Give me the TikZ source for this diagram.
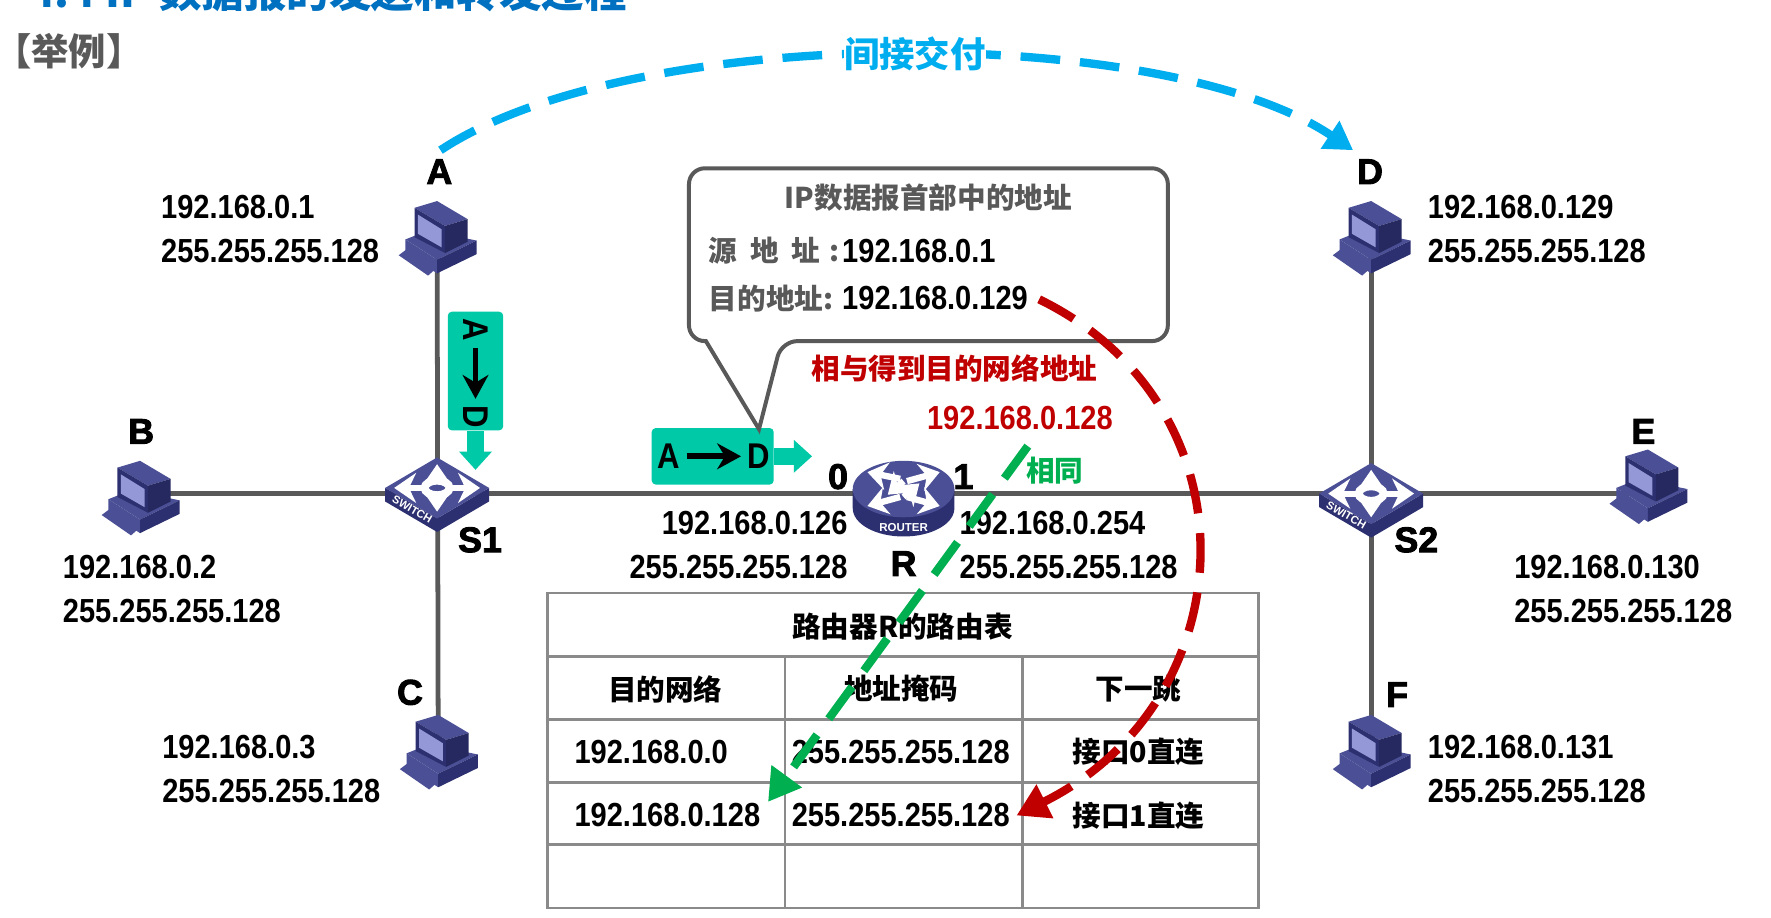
\documentclass[tikz,border=0pt]{standalone}
\usepackage{fontspec}
\usetikzlibrary{calc, positioning, arrows.meta}
\setmainfont{Liberation Sans}
\newfontfamily\cjk{Noto Sans CJK SC}
\newfontfamily\numfont[FakeStretch=0.87,BoldFeatures={FakeStretch=0.87}]{Liberation Sans}
\newfontfamily\lblfont[BoldFeatures={FakeBold=2.5}]{Liberation Sans}

\definecolor{netline}{HTML}{595959}
\definecolor{gridline}{HTML}{8A8A8A}
\definecolor{pktgreen}{HTML}{00C9A7}
\definecolor{skyblue}{HTML}{00AEEF}
\definecolor{titleblue}{HTML}{0070C0}
\definecolor{darkred}{HTML}{C00000}
\definecolor{samegreen}{HTML}{00B050}
\definecolor{icondark}{HTML}{2D3070}
\definecolor{iconmid}{HTML}{4B5096}
\definecolor{iconlight}{HTML}{9498D6}

\tikzset{
  hub/.style={coordinate},
  link/.style={draw=netline, line width=1.2pt},
  addr/.style={font=\numfont\bfseries\fontsize{8.4}{11.1}\selectfont, align=left, anchor=west, inner sep=0pt},
  addrright/.style={addr, align=right, anchor=east},
  cell/.style={font=\numfont\bfseries\fontsize{8.4}{10}\selectfont, inner sep=0pt},
  head/.style={font=\cjk\bfseries\fontsize{7.2}{8}\selectfont, inner sep=0pt},
  devlabel/.style={font=\lblfont\bfseries\fontsize{9}{9}\selectfont, inner sep=0pt},
  greytext/.style={head, text=netline},
  pktbox/.style={fill=pktgreen, rounded corners=1pt, inner sep=0pt},
  pktletter/.style={font=\numfont\bfseries\fontsize{9}{9}\selectfont, inner sep=0pt},
  pktarrow/.style={line width=1.5pt, -{Stealth[length=6pt,width=6.5pt]}, shorten >=1.5pt, shorten <=1.5pt},
  pktout/.style={draw=pktgreen, line width=4.2pt, -{Triangle[length=4.6pt,width=8pt]}},
  sky/.style={draw=skyblue, line width=2.1pt, dash pattern=on 10pt off 5pt, -{Triangle[length=7pt,width=8pt]}},
  reddash/.style={draw=darkred, line width=2.1pt, dash pattern=on 10pt off 5pt, -{Triangle[length=8pt,width=9pt]}},
  greendash/.style={draw=samegreen, line width=2.1pt, dash pattern=on 10pt off 5pt, -{Triangle[length=8pt,width=9pt]}},
  callout/.style={draw=netline, line width=1pt, fill=white},
  pics/pc/.style={code={
    \fill[iconmid] (-28,2) -- (-8,-6) -- (35,3) -- (0,20) -- cycle;
    \fill[iconmid] (-28,2) -- (0,20) -- (0,32) -- (-28,14) -- cycle;
    \fill[icondark] (0,20) -- (35,3) -- (35,15) -- (0,32) -- cycle;
    \fill[iconmid] (-34,16) -- (-8,34) -- (0,27) -- (-26,10) -- cycle;
    \fill[iconmid] (-20,-26) -- (0,-32) -- (27,-16) -- (7,-10) -- cycle;
    \fill[icondark] (-20,-26) -- (7,-10) -- (7,14) -- (-20,0) -- cycle;
    \fill[icondark!85!black] (7,-10) -- (27,-16) -- (27,4) -- (7,14) -- cycle;
    \fill[iconlight] (-17,-20) -- (4,-7) -- (4,9) -- (-17,-3) -- cycle;
  }},
  pics/switch/.style={code={
    \fill[icondark] (-46,-5) -- (0,22) -- (46,-5) -- (46,7) -- (0,34) -- (-46,7) -- cycle;
    \fill[iconmid] (-46,-5) -- (0,-32) -- (46,-5) -- (0,22) -- cycle;
    \foreach \dx/\dy in {0/-26,0/16,-38/-5,38/-5}
      \draw[white, line width=1.5pt, -{Stealth[length=5.5pt,width=7.5pt]}] (0,-5) -- (\dx,\dy);
    \draw[white, line width=2pt, fill=iconmid] (0,-5) ellipse (11 and 6.5);
    \node[rotate=-30, text=white, font=\bfseries\fontsize{2.8}{3}\selectfont, inner sep=0pt] at (-22,14) {SWITCH};
  }},
  pics/router/.style={code={
    \fill[icondark] (-45,-8) -- (-45,9) arc[start angle=180, end angle=0, x radius=45, y radius=25] -- (45,-8) -- cycle;
    \fill[iconmid] (0,-8) ellipse (45 and 25);
    \foreach \xa/\ya/\xb/\yb in {-3/-17/-32/-23, 3/-15/32/-23, -3/-1/-32/7, 3/-1/32/7, 0/-15/-14/-3, 0/-1/14/-13}
      \draw[white, line width=1.6pt, -{Stealth[length=5pt,width=7pt]}] (\xa,\ya) -- (\xb,\yb);
    \node[text=white, font=\bfseries\fontsize{2.9}{3}\selectfont, inner sep=0pt] at (0,26) {ROUTER};
  }},
}

\begin{document}
\begin{tikzpicture}[x=0.01cm, y=-0.01cm]
\useasboundingbox (0,0) rectangle (1568,812);

% Heading
\node[font=\cjk\bfseries\fontsize{10.7}{11}\selectfont, text=titleblue, anchor=west, inner sep=0pt] (title) at (25,-8) {4.4 IP 数据报的发送和转发过程};
\node[font=\cjk\bfseries\fontsize{9.4}{10}\selectfont, text=netline, anchor=west, inner sep=0pt] (example) at (-6,45) {【举例】};

% Device positions
\foreach \nm/\x/\y in {pcA/387/210, pcB/124/440, pcC/388/665, pcD/1214/210, pcE/1459/430, pcF/1214/665, swA/387/437, swB/1214/442, rtr/800/441}
  \node[hub] (\nm) at (\x,\y) {};

% Draw links
\draw[link] (pcA) -- (pcC);
\draw[link] (pcD) -- (pcF);
\draw[link] (pcB |- swA) -- (swA) -- (rtr |- swA) -- (pcE |- swA);

% Draw devices
\foreach \nm in {pcA,pcB,pcC,pcD,pcE,pcF}
  \pic at (\nm) {pc};
\pic at (swA) {switch};
\pic at (swB) {switch};
\pic at (rtr) {router};

% Device labels
\foreach \nm/\x/\y/\txt in {lblA/389/152/A, lblD/1213/152/D, lblB/125/382/B, lblE/1455/382/E, lblC/363/613/C, lblF/1237/615/F, lblSa/425/478/S1, lblSb/1254/478/S2, lblR/800/499/R, lblZero/742/422/0, lblOne/853/422/1}
  \node[devlabel] (\nm) at (\x,\y) {\txt};

% Addresses
\node[addr] (ipA) at (142,202.5) {192.168.0.1\\255.255.255.128};
\node[addr] (ipD) at (1263.5,202.5) {192.168.0.129\\255.255.255.128};
\node[addr] (ipB) at (55,521.5) {192.168.0.2\\255.255.255.128};
\node[addr] (ipE) at (1340,521.5) {192.168.0.130\\255.255.255.128};
\node[addr] (ipC) at (143,680.5) {192.168.0.3\\255.255.255.128};
\node[addr] (ipF) at (1263.5,680.5) {192.168.0.131\\255.255.255.128};
\node[addrright] (ipZero) at (751,482.5) {192.168.0.126\\255.255.255.128};
\node[addr] (ipOne) at (849,482.5) {192.168.0.254\\255.255.255.128};

% Packet on the way down
\node[pktbox, minimum width=49*0.01cm, minimum height=105*0.01cm] (pktV) at (421,328.5) {};
\node[pktletter, rotate=-90] (pktVa) at (421,292) {A};
\node[pktletter, rotate=-90] (pktVd) at (421,369) {D};
\draw[pktarrow] (pktVa) -- (pktVd);
\coordinate (pktVend) at (421,416);
\draw[pktout] (pktV.south) -- (pktVend);

% Packet on the way to the router
\node[pktbox, minimum width=108*0.01cm, minimum height=50*0.01cm] (pktH) at (631,404) {};
\node[pktletter] (pktHa) at (592,404) {A};
\node[pktletter] (pktHd) at (672,404) {D};
\draw[pktarrow] (pktHa) -- (pktHd);
\coordinate (pktHend) at (719,404);
\draw[pktout] (pktH.east) -- (pktHend);

% Header callout
\coordinate (calloutTip) at (672,380);
\draw[callout, rounded corners=14*0.01cm] (610,225) -- (610,149) -- (1034,149) -- (1034,302) -- (692,302) [sharp corners] -- (calloutTip) -- (625,302) [rounded corners=14*0.01cm] -- (610,302) -- (610,225);
\node[greytext] (calloutTitle) at (822,175) {IP数据报首部中的地址};
\node[greytext, anchor=west] (srcKey) at (627,222) {源\hspace{0.45em}地\hspace{0.45em}址\hspace{0.3em}:};
\node[greytext, anchor=west] (dstKey) at (627,264) {目的地址:};
\node[cell, anchor=west] (srcVal) at (745,222) {192.168.0.1};
\node[cell, anchor=west] (dstVal) at (745,264) {192.168.0.129};

% Red notes
\node[head, text=darkred] (andNote) at (845,326) {相与得到目的网络地址};
\node[cell, text=darkred] (netVal) at (903,370) {192.168.0.128};
\node[head, text=samegreen] (sameNote) at (934,417) {相同};

% Routing table
\draw[gridline, line width=0.7pt, fill=white] (485,525) rectangle (1114,804);
\foreach \y in {581,637,693,748}
  \draw[gridline, line width=0.7pt] (485,\y) -- (1114,\y);
\foreach \x in {695,905}
  \draw[gridline, line width=0.7pt] (\x,581) -- (\x,804);
\node[head] (tblTitle) at (799,555) {路由器R的路由表};
\node[head] (tblNet) at (589,610) {目的网络};
\node[head] (tblMask) at (798,610) {地址掩码};
\node[head] (tblNext) at (1008,610) {下一跳};
\node[cell, anchor=west] (netOne) at (508,666) {192.168.0.0};
\node[cell] (maskOne) at (797.5,666) {255.255.255.128};
\node[head] (nextOne) at (1008,666) {接口0直连};
\node[cell, anchor=west] (netTwo) at (508,722) {192.168.0.128};
\node[cell] (maskTwo) at (797.5,722) {255.255.255.128};
\node[head] (nextTwo) at (1008,722) {接口1直连};

% Indirect delivery arc
\coordinate (arcStart) at (390,133);
\coordinate (arcEnd) at (1198,133);
\draw[sky] (arcStart) .. controls (560,20) and (1030,20) .. (arcEnd);
\node[font=\cjk\bfseries\fontsize{8.9}{9}\selectfont, text=skyblue, fill=white, inner sep=0pt] (indirect) at (810,48) {间接交付};

% Comparison arrows
\coordinate (greenStart) at (910,395);
\coordinate (greenEnd) at (680,710);
\draw[greendash] (greenStart) -- (greenEnd);
\coordinate (redStart) at (920,265);
\coordinate (redEnd) at (900,722);
\draw[reddash] (redStart) .. controls (1115,360) and (1105,620) .. (redEnd);
\end{tikzpicture}
\end{document}
